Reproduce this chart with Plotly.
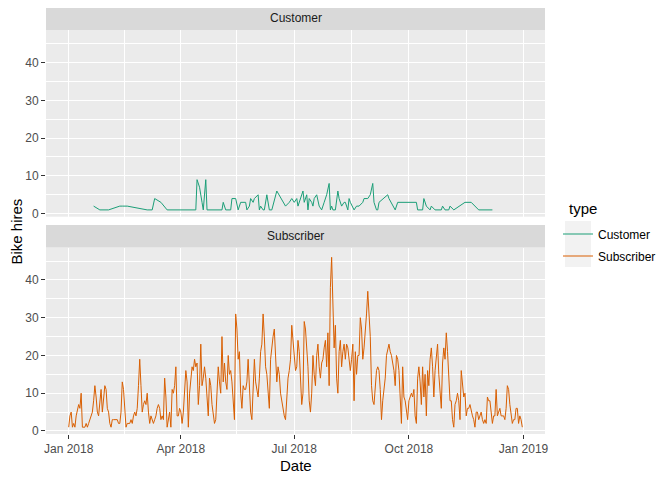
import pandas as pd
import plotly.graph_objects as go

# daily subscriber hires, 1 Jan 2018 .. 31 Dec 2018
start = pd.Timestamp("2018-01-01")
subscriber_hires = [
    1, 4, 5, 1, 2, 1, 4, 6, 7, 6, 10, 1, 1, 1, 2, 1, 2, 3, 4, 5,
    8, 12, 9, 5, 4, 9, 11, 5, 9, 12, 11, 6, 5, 2, 1, 3, 3, 3, 3, 3,
    2, 2, 5, 13, 11, 5, 1, 2, 2, 2, 3, 2, 4, 5, 4, 6, 12, 19, 12, 5,
    7, 8, 7, 10, 5, 2, 4, 3, 2, 3, 4, 6, 7, 6,
    3, 4, 3, 14, 9, 1, 3, 5, 1, 11, 10, 12, 17, 4, 4, 6, 5, 2, 5, 12,
    16, 13, 1, 10, 14, 17, 16, 19, 17, 18, 7, 12, 23, 12, 14, 17, 14, 9, 4, 14,
    12, 7, 4, 2, 3, 12, 17, 13, 10, 25, 13, 18, 13, 11, 20, 15, 16, 13, 8, 3,
    31, 27, 19, 21, 10, 6, 12, 11, 11, 13, 19, 13, 5, 3, 11, 19,
    13, 11, 9, 14, 21, 23, 31, 25, 17, 15, 9, 6, 19, 23, 25, 27, 20, 13, 17, 15,
    10, 8, 5, 4, 3, 10, 14, 16, 19, 28, 23, 18, 16, 17, 24, 21, 12, 7, 10, 29,
    27, 22, 17, 8, 5, 10, 20, 15, 12, 20, 23, 17, 14, 18, 19, 22, 24, 17, 26, 12,
    38, 46, 35, 22, 28, 14, 10, 21, 24, 17, 21, 23, 19, 23, 22, 19,
    16, 19, 23, 8, 21, 15, 20, 20, 30, 27, 19, 22, 26, 31, 37, 31, 25, 12, 8, 7,
    11, 16, 17, 16, 11, 3, 8, 11, 14, 20, 22, 23, 21, 20, 18, 16, 12, 20, 19, 16,
    9, 2, 17, 9, 8, 5, 3, 8, 9, 10, 9, 11, 4, 2, 14, 17, 13, 7, 17, 9,
    15, 4, 16, 12, 19, 22, 17, 9, 16, 20, 23, 15, 11, 6, 18, 22,
    19, 26, 21, 14, 8, 8, 3, 1, 7, 8, 10, 8, 3, 16, 13, 9, 10, 4, 6, 6,
    7, 5, 4, 3, 1, 5, 5, 3, 4, 5, 3, 2, 3, 2, 9, 8, 8, 5, 2, 4,
    4, 11, 4, 5, 6, 4, 4, 4, 3, 6, 12, 11, 7, 4, 2, 3, 3, 6, 6, 2,
    4, 3, 1,
]
subscriber_dates = pd.date_range(start, periods=len(subscriber_hires), freq="D")

# customer hires only on some days (day of year, count)
customer_days = [
    20, 25, 32, 41, 43, 47, 63, 67, 69, 74, 79, 102, 103, 105, 107, 108, 110, 111,
    123, 124, 126, 130, 131, 134, 136, 138, 142, 143, 145, 146, 148, 149, 152, 153,
    154, 156, 157, 159, 161, 163, 167, 172, 174, 177, 179, 181, 183, 184, 185, 188,
    189, 191, 192, 193, 195, 196, 197, 199, 201, 203, 205, 207, 209, 210, 211, 212,
    214, 216, 217, 219, 221, 222, 224, 225, 226, 229, 231, 233, 236, 237, 240, 242,
    244, 245, 247, 248, 249, 253, 256, 257, 262, 264, 279, 280, 284, 285, 287, 290,
    291, 294, 299, 300, 302, 305, 306, 309, 314, 318, 323, 329, 340,
]
customer_hires = [
    2, 1, 1, 2, 2, 2, 1, 1, 4, 3, 1, 1, 9, 7, 3, 1, 9, 1,
    1, 3, 1, 1, 4, 4, 1, 3, 3, 1, 2, 4, 3, 4, 5, 1,
    2, 1, 1, 5, 1, 1, 6, 3, 2, 3, 4, 3, 4, 2, 3, 6,
    3, 5, 1, 4, 3, 2, 4, 5, 2, 1, 3, 5, 8, 1, 2, 1,
    1, 6, 4, 2, 3, 3, 1, 4, 3, 1, 2, 2, 3, 4, 4, 5,
    8, 3, 1, 1, 3, 4, 5, 4, 1, 3, 3, 1, 1, 4, 2, 1,
    2, 1, 1, 2, 1, 1, 2, 1, 2, 3, 3, 1, 1,
]
customer_dates = start + pd.to_timedelta(customer_days, unit="D")

x_ticks = ["2018-01-01", "2018-04-01", "2018-07-01", "2018-10-01", "2019-01-01"]
x_tick_labels = ["Jan 2018", "Apr 2018", "Jul 2018", "Oct 2018", "Jan 2019"]
x_minor = ["2018-02-15", "2018-05-16", "2018-08-16", "2018-11-16"]
y_ticks = [0, 10, 20, 30, 40]
y_minor = [5, 15, 25, 35, 45]

font = "Liberation Sans, Arial, sans-serif"
green = "#1B9E77"
orange = "#D95F02"

fig = go.Figure()
fig.add_trace(go.Scatter(x=customer_dates, y=customer_hires, mode="lines", name="Customer",
                         line=dict(color=green, width=1), xaxis="x", yaxis="y",
                         legendgroup="c"))
fig.add_trace(go.Scatter(x=subscriber_dates, y=subscriber_hires, mode="lines", name="Subscriber",
                         line=dict(color=orange, width=1), xaxis="x2", yaxis="y2",
                         legendgroup="s"))

# the page puts the figure 8px in from the top-left, so the figure is 8px smaller
# and the plot area (46..545 x 8..434 in window pixels) is laid out from there
def py(p):
    return (434 - p) / 426

def px(p):
    return (p - 46) / 499

x_range = ["2017-12-13 19:00", "2019-01-18 05:00"]
y_range = [-0.8, 48.6]

xaxis_common = dict(range=x_range, tickmode="array", tickvals=x_ticks, ticktext=x_tick_labels,
                    showgrid=True, gridcolor="white", gridwidth=1.3, zeroline=False, showline=False,
                    automargin=False,
                    minor=dict(tickvals=x_minor, showgrid=True, gridcolor="white", gridwidth=0.7, ticks=""))
yaxis_common = dict(range=y_range, tickmode="array", tickvals=y_ticks,
                    showgrid=True, gridcolor="white", gridwidth=1.3, zeroline=False, showline=False,
                    automargin=False,
                    ticks="outside", ticklen=4, tickwidth=1, tickcolor="#333333",
                    tickfont=dict(size=12, color="#4D4D4D"),
                    minor=dict(tickvals=y_minor, showgrid=True, gridcolor="white", gridwidth=0.7, ticks=""))

fig.update_layout(
    width=664, height=472,
    margin=dict(l=38, r=127, t=0, b=46, autoexpand=False),
    paper_bgcolor="white", plot_bgcolor="#EBEBEB",
    font=dict(family=font, size=12, color="black"),
    xaxis=dict(xaxis_common, domain=[0, 1], anchor="y", matches="x2",
               showticklabels=False, ticks=""),
    yaxis=dict(yaxis_common, domain=[py(216.7), py(30)], anchor="x"),
    xaxis2=dict(xaxis_common, domain=[0, 1], anchor="y2",
                ticks="outside", ticklen=4, tickwidth=1, tickcolor="#333333",
                tickfont=dict(size=12, color="#4D4D4D")),
    yaxis2=dict(yaxis_common, domain=[0, py(247.5)], anchor="x2"),
    showlegend=True,
    legend=dict(x=px(558), y=py(219.5), xanchor="left", yanchor="top",
                bgcolor="rgba(0,0,0,0)", font=dict(size=12, color="black"),
                traceorder="grouped", tracegroupgap=3),
)

# facet strips
fig.add_shape(type="rect", xref="paper", yref="paper", x0=0, x1=1, y0=py(30), y1=1,
              fillcolor="#D9D9D9", line=dict(width=0), layer="below")
fig.add_shape(type="rect", xref="paper", yref="paper", x0=0, x1=1, y0=py(247.5), y1=py(225),
              fillcolor="#D9D9D9", line=dict(width=0), layer="below")
# legend key background
fig.add_shape(type="rect", xref="paper", yref="paper", x0=px(565), x1=px(591), y0=py(267), y1=py(221),
              fillcolor="#F2F2F2", line=dict(width=0), layer="below")

fig.add_annotation(text="Customer", xref="paper", yref="paper", x=0.5, y=py(18.5),
                   xanchor="center", yanchor="middle",
                   showarrow=False, font=dict(size=12, color="#1A1A1A"))
fig.add_annotation(text="Subscriber", xref="paper", yref="paper", x=0.5, y=py(236),
                   xanchor="center", yanchor="middle",
                   showarrow=False, font=dict(size=12, color="#1A1A1A"))
fig.add_annotation(text="Bike hires", xref="paper", yref="paper", x=px(15.5), y=py(232),
                   xanchor="center", yanchor="middle",
                   textangle=-90, showarrow=False, font=dict(size=15, color="black"))
fig.add_annotation(text="Date", xref="paper", yref="paper", x=0.5, y=py(465),
                   xanchor="center", yanchor="middle",
                   showarrow=False, font=dict(size=15, color="black"))
fig.add_annotation(text="type", xref="paper", yref="paper", x=px(567), y=py(208),
                   xanchor="left", yanchor="middle", showarrow=False,
                   font=dict(size=15, color="black"))

fig.write_html("out.html")
